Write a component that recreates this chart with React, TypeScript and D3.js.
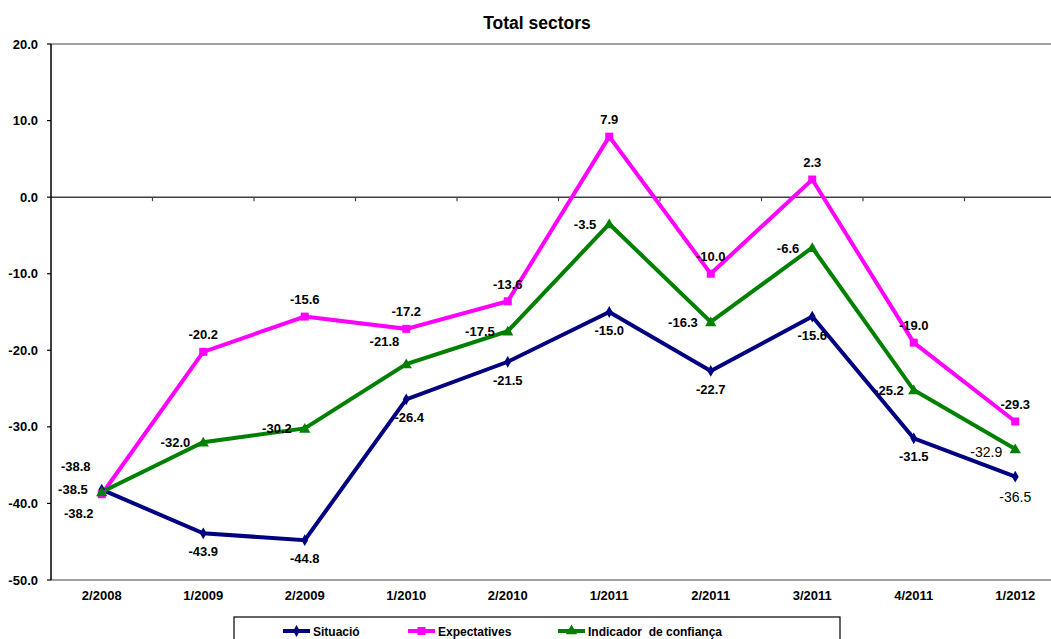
import React from "react";
import { scaleBand, scaleLinear, line, symbol, symbolDiamond, symbolSquare, symbolTriangle } from "d3";

const categories = ["2/2008", "1/2009", "2/2009", "1/2010", "2/2010", "1/2011", "2/2011", "3/2011", "4/2011", "1/2012"];
const situacio = [-38.2, -43.9, -44.8, -26.4, -21.5, -15.0, -22.7, -15.6, -31.5, -36.5];
const expectatives = [-38.8, -20.2, -15.6, -17.2, -13.6, 7.9, -10.0, 2.3, -19.0, -29.3];
const indicador = [-38.5, -32.0, -30.2, -21.8, -17.5, -3.5, -16.3, -6.6, -25.2, -32.9];
const yTicks = [20, 10, 0, -10, -20, -30, -40, -50];

const W = 1051;
const H = 639;
const FONT = "'Liberation Sans', Arial, Helvetica, sans-serif";

interface Series {
  name: string;
  values: number[];
  color: string;
  marker: "diamond" | "square" | "triangle";
  // default label placement relative to the marker
  pos: "below" | "above" | "left";
}

const series: Series[] = [
  { name: "Situació", values: situacio, color: "#000080", marker: "diamond", pos: "below" },
  { name: "Expectatives", values: expectatives, color: "#FF00FF", marker: "square", pos: "above" },
  { name: "Indicador  de confiança", values: indicador, color: "#008000", marker: "triangle", pos: "left" },
];

// labels that were dragged by hand in the original
const labelOverrides: Record<string, { dx: number; dy: number; anchor?: string; plain?: boolean }> = {
  "0-0": { dx: -23, dy: 28, anchor: "middle" },
  "1-0": { dx: -26, dy: -23, anchor: "middle" },
  "2-0": { dx: -14, dy: 2, anchor: "end" },
  "2-3": { dx: -7, dy: -18, anchor: "end" },
  "2-8": { dx: -10, dy: 5, anchor: "end" },
  "0-3": { dx: 3, dy: 23, anchor: "middle" },
  "0-9": { dx: 0, dy: 25, anchor: "middle", plain: true },
  "2-9": { dx: -13, dy: 8, anchor: "end", plain: true },
};

const markerPath = (kind: Series["marker"]) => {
  if (kind === "diamond") return symbol(symbolDiamond, 40)()!;
  if (kind === "square") return symbol(symbolSquare, 64)()!;
  return symbol(symbolTriangle, 55)()!;
};

export default function App() {
  const left = 51;
  const top = 44;
  const bottom = 580;

  const x = scaleBand<string>().domain(categories).range([left, left + 101.5 * categories.length]).padding(0);
  const y = scaleLinear().domain([-50, 20]).range([bottom, top]);
  const cx = (c: string) => (x(c) ?? 0) + x.bandwidth() / 2;

  const path = line<number>()
    .x((_, i) => cx(categories[i]))
    .y((d) => y(d));

  return (
    <svg
      width={W}
      height={H}
      style={{ position: "absolute", left: 0, top: 0, background: "#fff" }}
      fontFamily={FONT}
    >
      <text x={537} y={29} textAnchor="middle" fontSize={17.5} fontWeight="bold">
        Total sectors
      </text>

      {/* plot frame */}
      <line x1={left} x2={W} y1={top} y2={top} stroke="#808080" strokeWidth={1.5} />
      <line x1={left} x2={W} y1={bottom} y2={bottom} stroke="#808080" strokeWidth={1.5} />
      <line x1={left} x2={W} y1={y(0)} y2={y(0)} stroke="#404040" strokeWidth={1.5} />
      {categories.slice(1).map((c) => (
        <line key={c} x1={x(c)} x2={x(c)} y1={y(0)} y2={y(0) + 4} stroke="#404040" strokeWidth={1.2} />
      ))}
      <line x1={left} x2={left} y1={top} y2={bottom} stroke="#000" strokeWidth={1.5} />
      {yTicks.map((t) => (
        <g key={t}>
          <line x1={left - 4} x2={left} y1={y(t)} y2={y(t)} stroke="#000" strokeWidth={1.2} />
          <text x={38} y={y(t) + 4.5} textAnchor="end" fontSize={13} fontWeight="bold">
            {t.toFixed(1)}
          </text>
        </g>
      ))}
      {categories.map((c) => (
        <text key={c} x={cx(c)} y={600} textAnchor="middle" fontSize={13} fontWeight="bold">
          {c}
        </text>
      ))}

      {series.map((s) => (
        <path key={s.name} d={path(s.values) ?? ""} fill="none" stroke={s.color} strokeWidth={4} strokeLinejoin="miter" />
      ))}
      {series.map((s) =>
        s.values.map((v, i) => (
          <path
            key={s.name + i}
            d={markerPath(s.marker)}
            transform={`translate(${cx(categories[i])},${y(v) + (s.marker === "triangle" ? 1 : 0)})`}
            fill={s.color}
          />
        ))
      )}

      {series.map((s, si) =>
        s.values.map((v, i) => {
          const px = cx(categories[i]);
          const py = y(v);
          const o = labelOverrides[`${si}-${i}`];
          let dx = 0;
          let dy = 0;
          let anchor = "middle";
          if (s.pos === "below") dy = 23;
          else if (s.pos === "above") dy = -12.5;
          else {
            dx = -13;
            dy = 5;
            anchor = "end";
          }
          if (o) {
            dx = o.dx;
            dy = o.dy;
            anchor = o.anchor ?? anchor;
          }
          return (
            <text
              key={s.name + "l" + i}
              x={px + dx}
              y={py + dy}
              textAnchor={anchor}
              fontSize={o?.plain ? 14 : 13}
              fontWeight={o?.plain ? "normal" : "bold"}
            >
              {v.toFixed(1)}
            </text>
          );
        })
      )}

      {/* legend */}
      <rect x={234} y={617} width={606} height={40} fill="#fff" stroke="#000" strokeWidth={1.2} />
      {series.map((s, i) => {
        const lx = [283, 408, 558][i];
        return (
          <g key={s.name}>
            <line x1={lx} x2={lx + 27} y1={631} y2={631} stroke={s.color} strokeWidth={4} />
            <path d={markerPath(s.marker)} transform={`translate(${lx + 13.5},${631})`} fill={s.color} />
            <text x={lx + 30} y={635.5} fontSize={12} fontWeight="bold" style={{ whiteSpace: "pre" }}>
              {s.name}
            </text>
          </g>
        );
      })}
    </svg>
  );
}
